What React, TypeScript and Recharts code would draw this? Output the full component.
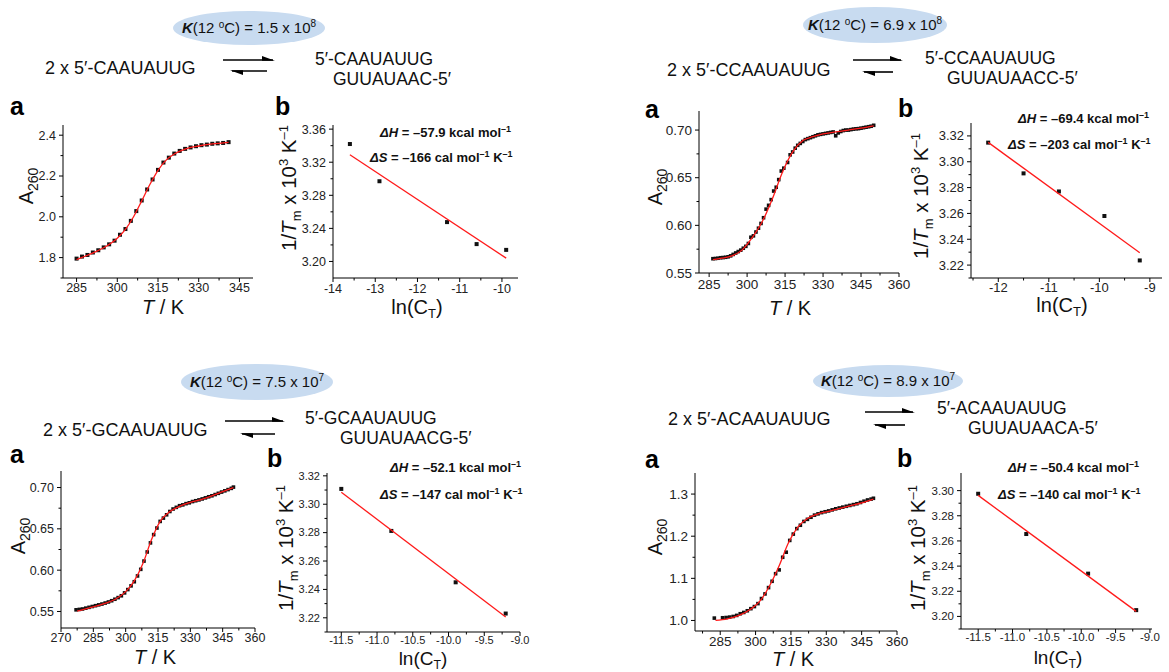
import React from 'react';
import { ComposedChart, Scatter, Line, XAxis, YAxis } from 'recharts';

// ---------- Data ----------
// Top-left (a): 2 x 5'-CAAUAUUG melting curve
const p1T = [285, 287, 289, 291, 293, 295, 297, 299, 301, 303, 305, 307, 309, 311, 313, 315, 317, 319, 321, 323, 325, 327, 329, 331, 333, 335, 337, 339, 341];
const p1A = [1.795, 1.805, 1.813, 1.825, 1.836, 1.85, 1.865, 1.883, 1.912, 1.94, 1.98, 2.028, 2.08, 2.134, 2.183, 2.23, 2.266, 2.29, 2.31, 2.323, 2.333, 2.34, 2.346, 2.351, 2.354, 2.358, 2.36, 2.362, 2.366];
const p1FitT = [285, 290, 295, 300, 303, 306, 309, 312, 315, 318, 321, 325, 330, 335, 341];
const p1FitA = [1.79, 1.817, 1.848, 1.895, 1.938, 2.0, 2.078, 2.158, 2.228, 2.278, 2.308, 2.332, 2.347, 2.357, 2.365];

// Top-left (b): van't Hoff
const p2X = [-13.6, -12.9, -11.3, -10.6, -9.9];
const p2Y = [3.342, 3.297, 3.2476, 3.221, 3.214];
const p2FitX = [-13.6, -9.9];
const p2FitY = [3.329, 3.204];

// Top-right (a): 2 x 5'-CCAAUAUUG
const p3T = [286.5, 287.5, 288.5, 289.5, 290.5, 291.5, 292.5, 293.5, 294.5, 295.5, 296.5, 297.5, 298.5, 299.5, 300.5, 301.5, 302.5, 303.5, 304.5, 305.5, 306.5, 307.5, 308.5, 309.5, 310.5, 311.5, 312.5, 313.5, 314.5, 316, 317, 318, 319, 320, 321, 322, 323, 324, 325, 326, 327, 328, 329, 330, 331, 332, 333, 334, 335, 336, 337, 338, 339, 340, 341, 342, 343, 344, 345, 346, 347, 348, 349, 350];
const p3A = [0.565, 0.5652, 0.5655, 0.566, 0.5662, 0.5665, 0.567, 0.568, 0.5695, 0.571, 0.5725, 0.574, 0.576, 0.578, 0.581, 0.5875, 0.589, 0.593, 0.597, 0.602, 0.608, 0.617, 0.621, 0.627, 0.636, 0.64, 0.648, 0.657, 0.66, 0.666, 0.674, 0.677, 0.681, 0.684, 0.686, 0.688, 0.69, 0.691, 0.692, 0.693, 0.694, 0.695, 0.6955, 0.696, 0.6965, 0.697, 0.6975, 0.698, 0.694, 0.697, 0.6985, 0.6995, 0.7, 0.7, 0.7005, 0.701, 0.7013, 0.7015, 0.702, 0.7025, 0.703, 0.7035, 0.704, 0.705];
const p3FitT = [286.5, 290, 294, 298, 302, 306, 310, 314, 318, 322, 326, 330, 335, 340, 345, 350];
const p3FitA = [0.564, 0.5655, 0.568, 0.574, 0.587, 0.604, 0.628, 0.656, 0.677, 0.689, 0.693, 0.696, 0.698, 0.7, 0.702, 0.7045];

// Top-right (b)
const p4X = [-12.2, -11.5, -10.8, -9.9, -9.2];
const p4Y = [3.3148, 3.291, 3.277, 3.258, 3.2236];
const p4FitX = [-12.2, -9.2];
const p4FitY = [3.315, 3.2295];

// Bottom-left (a): 2 x 5'-GCAAUAUUG
const p5T = [277, 278.5, 280, 281.5, 283, 284.5, 286, 287.5, 289, 290.5, 292, 293.5, 295, 296.5, 298, 299.5, 301, 302.5, 304, 305.5, 307, 308.5, 310, 311.5, 313, 314.5, 316, 317.5, 319, 320.5, 322, 323.5, 325, 326.5, 328, 329.5, 331, 332.5, 334, 335.5, 337, 338.5, 340, 341.5, 343, 344.5, 346, 347.5, 349, 350];
const p5A = [0.552, 0.5525, 0.553, 0.554, 0.555, 0.556, 0.557, 0.558, 0.559, 0.5602, 0.5615, 0.563, 0.5648, 0.5668, 0.569, 0.5725, 0.5765, 0.581, 0.586, 0.593, 0.601, 0.611, 0.622, 0.633, 0.643, 0.651, 0.659, 0.663, 0.667, 0.671, 0.674, 0.676, 0.678, 0.679, 0.6805, 0.6815, 0.683, 0.684, 0.685, 0.6862, 0.6875, 0.6888, 0.69, 0.6915, 0.693, 0.6945, 0.696, 0.6975, 0.699, 0.7005];
const p5FitT = [277.5, 285, 290, 295, 300, 304, 308, 312, 316, 320, 324, 330, 335, 340, 345, 350];
const p5FitA = [0.5505, 0.5555, 0.5595, 0.5645, 0.574, 0.587, 0.608, 0.637, 0.659, 0.67, 0.676, 0.682, 0.6855, 0.69, 0.695, 0.7];

// Bottom-left (b)
const p6X = [-11.5, -10.8, -9.9, -9.2];
const p6Y = [3.3108, 3.2812, 3.245, 3.223];
const p6FitX = [-11.5, -9.2];
const p6FitY = [3.3085, 3.2205];

// Bottom-right (a): 2 x 5'-ACAAUAUUG
const p7T = [282.5, 286, 287.5, 289, 290.5, 292, 293.5, 295, 296.5, 298, 299.5, 301, 302.5, 304, 305.5, 307, 308.5, 310, 311.5, 313, 314.5, 316, 317.5, 319, 320.5, 322, 323.5, 325, 326.5, 328, 329.5, 331, 332.5, 334, 335.5, 337, 338.5, 340, 341.5, 343, 344.5, 346, 347.5, 349, 350];
const p7A = [1.0056, 1.0064, 1.007, 1.008, 1.0095, 1.012, 1.016, 1.019, 1.023, 1.028, 1.033, 1.04, 1.052, 1.063, 1.078, 1.093, 1.111, 1.12, 1.15, 1.162, 1.19, 1.205, 1.218, 1.226, 1.235, 1.24, 1.245, 1.25, 1.253, 1.256, 1.258, 1.26, 1.2625, 1.265, 1.267, 1.269, 1.271, 1.273, 1.275, 1.277, 1.28, 1.283, 1.286, 1.288, 1.29];
const p7FitT = [283, 288, 293, 298, 302, 306, 310, 314, 318, 322, 326, 330, 335, 340, 345, 350];
const p7FitA = [1.0, 1.004, 1.012, 1.027, 1.047, 1.083, 1.13, 1.185, 1.222, 1.242, 1.252, 1.258, 1.265, 1.272, 1.279, 1.288];

// Bottom-right (b)
const p8X = [-11.5, -10.8, -9.9, -9.2];
const p8Y = [3.2975, 3.2655, 3.234, 3.205];
const p8FitX = [-11.5, -9.2];
const p8FitY = [3.2962, 3.204];

// Tick values
const tempMajor = [285, 300, 315, 330, 345, 360];
const tempMajorWide = [270, 285, 300, 315, 330, 345, 360];
const tempMinor = [277.5, 292.5, 307.5, 322.5, 337.5, 352.5];
const p1YMajor = [1.8, 2.0, 2.2, 2.4];
const p1YMinor = [1.7, 1.9, 2.1, 2.3];
const p2XMajor = [-14, -13, -12, -11, -10];
const p2XMinor = [-13.5, -12.5, -11.5, -10.5];
const p2YMajor = [3.2, 3.24, 3.28, 3.32, 3.36];
const p2YMinor = [3.22, 3.26, 3.3, 3.34];
const p3YMajor = [0.55, 0.6, 0.65, 0.7];
const p3YMinor = [0.575, 0.625, 0.675];
const p4XMajor = [-12, -11, -10, -9];
const p4XMinor = [-12.5, -11.5, -10.5, -9.5];
const p4YMajor = [3.22, 3.24, 3.26, 3.28, 3.3, 3.32];
const p4YMinor = [3.21, 3.23, 3.25, 3.27, 3.29, 3.31];
const p5YMajor = [0.55, 0.6, 0.65, 0.7];
const p5YMinor = [0.575, 0.625, 0.675];
const halfMajor = [-11.5, -11.0, -10.5, -10.0, -9.5, -9.0];
const halfMinor = [-11.25, -10.75, -10.25, -9.75, -9.25];
const p6YMajor = [3.22, 3.24, 3.26, 3.28, 3.3, 3.32];
const p6YMinor = [3.21, 3.23, 3.25, 3.27, 3.29, 3.31];
const p7YMajor = [1.0, 1.1, 1.2, 1.3];
const p7YMinor = [1.05, 1.15, 1.25];
const p8YMajor = [3.2, 3.22, 3.24, 3.26, 3.28, 3.3];
const p8YMinor = [3.19, 3.21, 3.23, 3.25, 3.27, 3.29];

const FONT = '"Liberation Sans", Arial, Helvetica, sans-serif';

const pts = (xs: number[], ys: number[]) => xs.map((x, i) => ({ x, y: ys[i] }));

type PanelProps = {
  box: [number, number, number, number];
  xDomain: [number, number];
  yDomain: [number, number];
  xMajor: number[];
  xMinor: number[];
  yMajor: number[];
  yMinor: number[];
  xFmt: (v: number) => string;
  yFmt: (v: number) => string;
  points: { x: number; y: number }[];
  fit: { x: number; y: number }[];
  curve: 'monotone' | 'linear';
  fs: number;
  ms: number;
  gap: number;
};

const isMaj = (arr: number[], v: number) => arr.some((m) => Math.abs(m - v) < 1e-6);

const Square = (ms: number) => (props: any) => {
  const { cx, cy } = props;
  if (cx == null || cy == null) return <g />;
  return <rect x={cx - ms / 2} y={cy - ms / 2} width={ms} height={ms} fill="#111" />;
};

function Panel(p: PanelProps) {
  const [x0, y0, x1, y1] = p.box;
  const L = 50, T = 8, R = 22, B = 28;
  const W = x1 - x0 + L + R;
  const H = y1 - y0 + T + B;
  const xt = [...p.xMajor, ...p.xMinor].filter((v) => v >= p.xDomain[0] - 1e-9 && v <= p.xDomain[1] + 1e-9).sort((a, b) => a - b);
  const yt = [...p.yMajor, ...p.yMinor].filter((v) => v >= p.yDomain[0] - 1e-9 && v <= p.yDomain[1] + 1e-9).sort((a, b) => a - b);
  return (
    <>
      <div style={{ position: 'absolute', left: x0 - L, top: y0 - T }}>
        <ComposedChart width={W} height={H} margin={{ top: T, right: R, left: 0, bottom: 0 }} style={{ overflow: 'visible' }}>
          <XAxis
            type="number"
            dataKey="x"
            domain={p.xDomain}
            allowDataOverflow
            ticks={xt}
            interval={0}
            height={B}
            tickSize={4}
            tickMargin={3}
            tickLine={false}
            axisLine={{ stroke: '#000', strokeWidth: 1 }}
            tick={(tp: any) => {
              const v = tp.payload.value;
              const maj = isMaj(p.xMajor, v);
              const ay = tp.y - 7;
              return (
                <g>
                  <line x1={tp.x} x2={tp.x} y1={ay} y2={ay + (maj ? 4 : 2.5)} stroke="#000" strokeWidth={1} />
                  {maj && (
                    <text x={tp.x} y={ay + p.gap} dy="0.72em" textAnchor="middle" fontSize={p.fs} fill="#222" fontFamily={FONT}>
                      {p.xFmt(v)}
                    </text>
                  )}
                </g>
              );
            }}
          />
          <YAxis
            type="number"
            dataKey="y"
            domain={p.yDomain}
            allowDataOverflow
            ticks={yt}
            interval={0}
            width={L}
            tickSize={4}
            tickMargin={3}
            tickLine={false}
            axisLine={{ stroke: '#000', strokeWidth: 1 }}
            tick={(tp: any) => {
              const v = tp.payload.value;
              const maj = isMaj(p.yMajor, v);
              const ax = tp.x + 7;
              return (
                <g>
                  <line x1={ax} x2={ax - (maj ? 4 : 2.5)} y1={tp.y} y2={tp.y} stroke="#000" strokeWidth={1} />
                  {maj && (
                    <text x={tp.x} y={tp.y} dy="0.35em" textAnchor="end" fontSize={p.fs} fill="#222" fontFamily={FONT}>
                      {p.yFmt(v)}
                    </text>
                  )}
                </g>
              );
            }}
          />
          <Scatter data={p.points} fill="#111" shape={Square(p.ms)} isAnimationActive={false} />
        </ComposedChart>
      </div>
      {/* fit line drawn above the measured points */}
      <div style={{ position: 'absolute', left: x0 - L, top: y0 - T }}>
        <ComposedChart width={W} height={H} margin={{ top: T, right: R, left: L, bottom: B }}>
          <XAxis type="number" dataKey="x" domain={p.xDomain} allowDataOverflow hide />
          <YAxis type="number" dataKey="y" domain={p.yDomain} allowDataOverflow hide />
          <Line data={p.fit} dataKey="y" type={p.curve} stroke="#ff1a1a" strokeWidth={1.3} dot={false} activeDot={false} isAnimationActive={false} />
        </ComposedChart>
      </div>
    </>
  );
}

const f0 = (v: number) => String(Math.round(v));
const f1 = (v: number) => v.toFixed(1);
const f2 = (v: number) => v.toFixed(2);

// ---------- Overlay text ----------
function Harpoons({ tx1, tx2, ty, bx1, bx2, by }: { tx1: number; tx2: number; ty: number; bx1: number; bx2: number; by: number }) {
  return (
    <g>
      <line x1={tx1} x2={tx2 - 2} y1={ty} y2={ty} stroke="#000" strokeWidth={1.6} />
      <polygon points={`${tx2},${ty + 0.8} ${tx2 - 13},${ty - 4} ${tx2 - 13},${ty + 0.8}`} fill="#000" />
      <line x1={bx1 + 2} x2={bx2} y1={by} y2={by} stroke="#000" strokeWidth={1.6} />
      <polygon points={`${bx1},${by - 0.8} ${bx1 + 13},${by + 4} ${bx1 + 13},${by - 0.8}`} fill="#000" />
    </g>
  );
}

function Equation(props: {
  ex: number; ey: number; rx: number; ry: number; kb: number; kval: string; kexp: string;
  lhs: string; lx: number; ly: number;
  arr: [number, number, number, number, number, number];
  r1: string; r1x: number; r1y: number; r2: string; r2x: number; r2y: number;
}) {
  const a = props.arr;
  return (
    <g>
      <ellipse cx={props.ex} cy={props.ey} rx={props.rx} ry={props.ry} fill="#c8dbf0" />
      <text x={props.ex} y={props.kb} textAnchor="middle" fontSize={15} fill="#111">
        <tspan fontWeight="bold" fontStyle="italic">K</tspan>
        <tspan>(12 </tspan>
        <tspan dy={-5} fontSize={10}>o</tspan>
        <tspan dy={5}>{`C) = ${props.kval} x 10`}</tspan>
        <tspan dy={-6} fontSize={10}>{props.kexp}</tspan>
      </text>
      <text x={props.lx} y={props.ly} fontSize={18} fill="#111">{props.lhs}</text>
      <Harpoons tx1={a[0]} tx2={a[1]} ty={a[2]} bx1={a[3]} bx2={a[4]} by={a[5]} />
      <text x={props.r1x} y={props.r1y} fontSize={17.5} fill="#111">{props.r1}</text>
      <text x={props.r2x} y={props.r2y} fontSize={17.5} fill="#111">{props.r2}</text>
    </g>
  );
}

const Letter = ({ x, y, t }: { x: number; y: number; t: string }) => (
  <text x={x} y={y} fontSize={25} fontWeight="bold" fill="#000">{t}</text>
);

const YA260 = ({ x, y }: { x: number; y: number }) => (
  <text transform={`translate(${x},${y}) rotate(-90)`} textAnchor="middle" fontSize={20} fill="#111">
    A<tspan dy={5} fontSize={14}>260</tspan>
  </text>
);

const YTm = ({ x, y }: { x: number; y: number }) => (
  <text transform={`translate(${x},${y}) rotate(-90)`} textAnchor="middle" fontSize={20.5} fill="#111">
    1/<tspan fontStyle="italic">T</tspan>
    <tspan dy={5} fontSize={13}>m</tspan>
    <tspan dy={-5}> x 10</tspan>
    <tspan dy={-8} fontSize={13}>3</tspan>
    <tspan dy={8}> K</tspan>
    <tspan dy={-8} fontSize={13}>–1</tspan>
  </text>
);

const XTK = ({ x, y }: { x: number; y: number }) => (
  <text x={x} y={y} textAnchor="middle" fontSize={20} fill="#111">
    <tspan fontStyle="italic">T</tspan> / K
  </text>
);

const XLn = ({ x, y, fs = 20 }: { x: number; y: number; fs?: number }) => (
  <text x={x} y={y} textAnchor="middle" fontSize={fs} fill="#111">
    ln(C<tspan dy={4} fontSize={fs * 0.65}>T</tspan>
    <tspan dy={-4}>)</tspan>
  </text>
);

const Annot = ({ x, y1, y2, dh, ds }: { x: number; y1: number; y2: number; dh: string; ds: string }) => (
  <g fontWeight="bold" fontSize={13} fill="#111">
    <text x={x} y={y1}>
      <tspan fontStyle="italic">ΔH</tspan>
      <tspan>{` = –${dh} kcal mol`}</tspan>
      <tspan dy={-5} fontSize={9}>–1</tspan>
    </text>
    <text x={x - 10} y={y2}>
      <tspan fontStyle="italic">ΔS</tspan>
      <tspan>{` = –${ds} cal mol`}</tspan>
      <tspan dy={-5} fontSize={9}>–1</tspan>
      <tspan dy={5}> K</tspan>
      <tspan dy={-5} fontSize={9}>–1</tspan>
    </text>
  </g>
);

function Overlay() {
  return (
    <svg width={1169} height={672} style={{ position: 'absolute', left: 0, top: 0 }} fontFamily={FONT}>
      <Equation ex={249} ey={28} rx={76} ry={17} kb={33} kval="1.5" kexp="8"
        lhs="2 x 5′-CAAUAUUG" lx={45} ly={74} arr={[223, 275, 60, 230, 267, 71]}
        r1="5′-CAAUAUUG" r1x={315} r1y={65} r2="GUUAUAAC-5′" r2x={333} r2y={85} />
      <Equation ex={875} ey={25} rx={72} ry={18} kb={30} kval="6.9" kexp="8"
        lhs="2 x 5′-CCAAUAUUG" lx={667} ly={76} arr={[853, 903, 60, 862, 893, 72]}
        r1="5′-CCAAUAUUG" r1x={925} r1y={64} r2="GUUAUAACC-5′" r2x={947} r2y={84} />
      <Equation ex={257} ey={382} rx={76} ry={18} kb={387} kval="7.5" kexp="7"
        lhs="2 x 5′-GCAAUAUUG" lx={43} ly={436} arr={[225, 285, 421, 240, 275, 434]}
        r1="5′-GCAAUAUUG" r1x={305} r1y={424} r2="GUUAUAACG-5′" r2x={340} r2y={444} />
      <Equation ex={888} ey={381} rx={75} ry={16} kb={386} kval="8.9" kexp="7"
        lhs="2 x 5′-ACAAUAUUG" lx={668} ly={425} arr={[865, 915, 412, 873, 905, 425]}
        r1="5′-ACAAUAUUG" r1x={937} r1y={414} r2="GUUAUAACA-5′" r2x={968} r2y={434} />

      <Letter x={10} y={115} t="a" />
      <Letter x={275} y={115} t="b" />
      <Letter x={645} y={118} t="a" />
      <Letter x={898} y={117} t="b" />
      <Letter x={10} y={463} t="a" />
      <Letter x={267} y={467} t="b" />
      <Letter x={645} y={468} t="a" />
      <Letter x={897} y={467} t="b" />

      <YA260 x={33} y={186} />
      <YA260 x={662} y={187} />
      <YA260 x={25} y={536} />
      <YA260 x={662} y={537} />

      <YTm x={296} y={188} />
      <YTm x={928} y={196} />
      <YTm x={293} y={548} />
      <YTm x={925} y={548} />

      <XTK x={163} y={314} />
      <XTK x={790} y={315} />
      <XTK x={155} y={664} />
      <XTK x={793} y={666} />

      <XLn x={417} y={314} />
      <XLn x={1062} y={312} />
      <XLn x={423} y={665} fs={19} />
      <XLn x={1058} y={664} fs={19} />

      <Annot x={380} y1={137} y2={162} dh="57.9" ds="166" />
      <Annot x={1018} y1={123} y2={149} dh="69.4" ds="203" />
      <Annot x={390} y1={472} y2={499} dh="52.1" ds="147" />
      <Annot x={1008} y1={472} y2={499} dh="50.4" ds="140" />
    </svg>
  );
}

export default function App() {
  return (
    <div style={{ position: 'absolute', left: 0, top: 0, width: 1169, height: 672, background: '#fff', fontFamily: FONT, overflow: 'hidden' }}>
      <Overlay />
      <Panel box={[63, 125, 253, 278]} xDomain={[280, 350]} yDomain={[1.7, 2.45]}
        xMajor={tempMajor} xMinor={tempMinor} yMajor={p1YMajor} yMinor={p1YMinor}
        xFmt={f0} yFmt={f1} points={pts(p1T, p1A)} fit={pts(p1FitT, p1FitA)} curve="monotone" fs={12.5} ms={4} gap={5} />
      <Panel box={[333, 125, 518, 278]} xDomain={[-14, -9.62]} yDomain={[3.18, 3.365]}
        xMajor={p2XMajor} xMinor={p2XMinor} yMajor={p2YMajor} yMinor={p2YMinor}
        xFmt={f0} yFmt={f2} points={pts(p2X, p2Y)} fit={pts(p2FitX, p2FitY)} curve="linear" fs={12.5} ms={4} gap={6} />
      <Panel box={[699, 111, 899, 273]} xDomain={[281, 360]} yDomain={[0.55, 0.72]}
        xMajor={tempMajor} xMinor={tempMinor} yMajor={p3YMajor} yMinor={p3YMinor}
        xFmt={f0} yFmt={f2} points={pts(p3T, p3A)} fit={pts(p3FitT, p3FitA)} curve="monotone" fs={13.5} ms={3.6} gap={6} />
      <Panel box={[971, 123, 1162, 278]} xDomain={[-12.54, -8.76]} yDomain={[3.21, 3.33]}
        xMajor={p4XMajor} xMinor={p4XMinor} yMajor={p4YMajor} yMinor={p4YMinor}
        xFmt={f0} yFmt={f2} points={pts(p4X, p4Y)} fit={pts(p4FitX, p4FitY)} curve="linear" fs={13} ms={4} gap={5} />
      <Panel box={[61, 471, 255, 628]} xDomain={[270, 360]} yDomain={[0.53, 0.72]}
        xMajor={tempMajorWide} xMinor={tempMinor} yMajor={p5YMajor} yMinor={p5YMinor}
        xFmt={f0} yFmt={f2} points={pts(p5T, p5A)} fit={pts(p5FitT, p5FitA)} curve="monotone" fs={12.5} ms={3.6} gap={5} />
      <Panel box={[327, 473, 520, 632]} xDomain={[-11.7, -9.0]} yDomain={[3.21, 3.322]}
        xMajor={halfMajor} xMinor={halfMinor} yMajor={p6YMajor} yMinor={p6YMinor}
        xFmt={f1} yFmt={f2} points={pts(p6X, p6Y)} fit={pts(p6FitX, p6FitY)} curve="linear" fs={11} ms={4} gap={4} />
      <Panel box={[695, 473, 897, 631]} xDomain={[274.3, 360]} yDomain={[0.975, 1.35]}
        xMajor={tempMajor} xMinor={tempMinor} yMajor={p7YMajor} yMinor={p7YMinor}
        xFmt={f0} yFmt={f1} points={pts(p7T, p7A)} fit={pts(p7FitT, p7FitA)} curve="monotone" fs={13.5} ms={3.6} gap={5} />
      <Panel box={[961, 473, 1152, 629]} xDomain={[-11.75, -8.97]} yDomain={[3.19, 3.314]}
        xMajor={halfMajor} xMinor={halfMinor} yMajor={p8YMajor} yMinor={p8YMinor}
        xFmt={f1} yFmt={f2} points={pts(p8X, p8Y)} fit={pts(p8FitX, p8FitY)} curve="linear" fs={11.5} ms={4} gap={4} />
    </div>
  );
}
